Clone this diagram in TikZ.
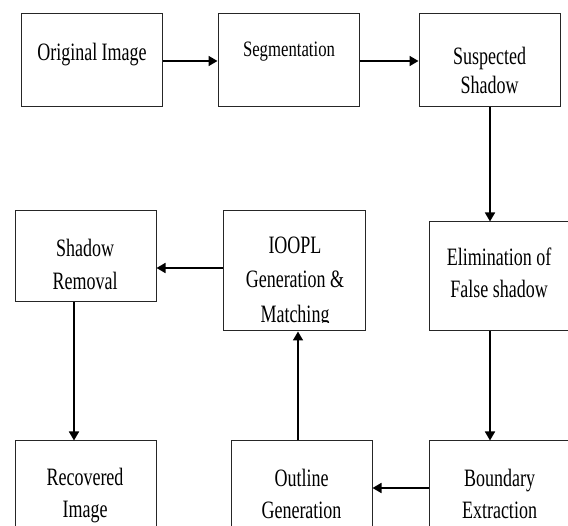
\documentclass[tikz,border=0pt]{standalone}
\usepackage{fontspec}
\setmainfont{Liberation Serif}[FakeStretch=0.72]
\newfontfamily\segfont{Liberation Serif}[FakeStretch=0.76]
\usetikzlibrary{arrows.meta}
\tikzset{
  box/.style={draw=black!85, line width=1pt, minimum width=141pt, inner sep=0pt},
  lbl/.style={align=center, inner sep=0pt, anchor=north, font=\fontsize{25}{32}\selectfont},
  conn/.style={draw=black, line width=1.7pt, -{Triangle[length=9pt,width=10pt]}}
}
\begin{document}
\begin{tikzpicture}[x=1pt,y=-1pt]
\useasboundingbox (0,0) rectangle (568,526);
\clip (0,0) rectangle (568,526);
% boxes
\node[box, minimum height=93pt] (b1) at (92.25,60.5) {};
\node[box, minimum height=93pt] (b2) at (288.5,60.5) {};
\node[box, minimum height=93pt] (b3) at (489.5,60.5) {};
\node[box, minimum height=109pt] (b4) at (499.5,276.5) {};
\node[box, minimum height=120pt, minimum width=142pt] (b5) at (294,271) {};
\node[box, minimum height=91pt] (b6) at (85.5,256.5) {};
\node[box, minimum height=92pt] (b7) at (85.5,487) {};
\node[box, minimum height=92pt] (b8) at (301.5,487) {};
\node[box, minimum height=92pt] (b9) at (499.5,487) {};
% labels
\node[lbl] (t1) at (92,43) {Original Image};
\node[lbl, font=\segfont\fontsize{22}{28}\selectfont] (t2) at (289,42) {Segmentation};
\node[lbl, font=\fontsize{25}{28.5}\selectfont] (t3) at (489.5,47) {Suspected\\Shadow};
\node[lbl] (t4) at (499,248) {Elimination of\\False shadow};
\begin{scope}
  \clip (223,211) rectangle (365,322.5);
  \node[lbl, font=\fontsize{25}{34.5}\selectfont] (t5) at (295,236.5) {IOOPL\\Generation \&\\Matching};
\end{scope}
\node[lbl, font=\fontsize{25}{33}\selectfont] (t6) at (85,239) {Shadow\\Removal};
\node[lbl] (t7) at (85,468) {Recovered\\Image};
\node[lbl] (t8) at (301.5,469) {Outline\\Generation};
\node[lbl] (t9) at (499.5,469) {Boundary\\Extraction};
% connector guide coordinates
\coordinate (vR) at (490,0);
\coordinate (vM) at (298,0);
\coordinate (vL) at (74,0);
\coordinate (hT) at (0,61);
\coordinate (hM) at (0,268);
\coordinate (hB) at (0,488);
% connectors
\draw[conn] (b1.east |- hT) -- (b2.west |- hT);
\draw[conn] (b2.east |- hT) -- (b3.west |- hT);
\draw[conn] (b3.south -| vR) -- (b4.north -| vR);
\draw[conn] (b4.south -| vR) -- (b9.north -| vR);
\draw[conn] (b9.west |- hB) -- (b8.east |- hB);
\draw[conn] (b8.north -| vM) -- (b5.south -| vM);
\draw[conn] (b5.west |- hM) -- (b6.east |- hM);
\draw[conn] (b6.south -| vL) -- (b7.north -| vL);
\end{tikzpicture}
\end{document}
